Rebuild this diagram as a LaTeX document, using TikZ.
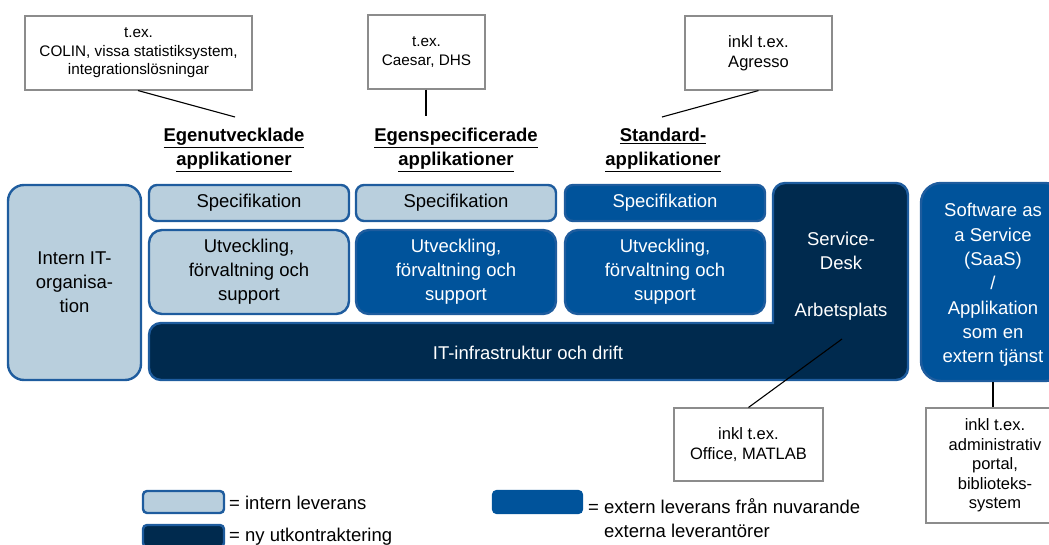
\documentclass[tikz,border=0pt]{standalone}
\usepackage{fontspec}
\setmainfont{Liberation Sans}
\definecolor{lightbox}{HTML}{B9CFDD}
\definecolor{midblue}{HTML}{00539B}
\definecolor{darkbox}{HTML}{002A4E}
\definecolor{edgeblue}{HTML}{1E5C9E}
\definecolor{notegray}{HTML}{8C8C8C}

\begin{document}
\begin{tikzpicture}[x=1pt,y=-1pt,
  tile/.style={draw=edgeblue, line width=2.4pt, inner sep=0pt, align=center,
    font=\fontsize{18.5}{24}\selectfont},
  intern/.style={tile, fill=lightbox, text=black},
  extern/.style={tile, fill=midblue, text=white},
  spec/.style={minimum width=200pt, minimum height=36pt, rounded corners=8pt},
  devel/.style={minimum width=200pt, minimum height=84pt, rounded corners=13pt},
  note/.style={draw=notegray, line width=1.1pt, fill=white, align=center,
    inner sep=0pt, font=\fontsize{15.3}{18.5}\selectfont},
  bignote/.style={note, font=\fontsize{16.5}{19.5}\selectfont},
  lead/.style={line width=1.1pt, black},
  heading/.style={align=center, font=\bfseries\fontsize{18.5}{24}\selectfont},
  label/.style={inner sep=0pt, font=\fontsize{18.5}{24}\selectfont},
  swatch/.style={draw=edgeblue, line width=2.4pt, rounded corners=4pt,
    minimum height=22pt, inner sep=0pt}]

\useasboundingbox (0,0) rectangle (1049,545);
\clip (0,0) rectangle (1049,545);

% left column: internal IT organisation
\node[intern, minimum width=133pt, minimum height=195pt, rounded corners=16pt]
  (org) at (74.5,282.5) {Intern IT-\\organisa-\\tion};

% infrastructure bar joined with the service desk column (inner corner kept sharp)
\draw[draw=edgeblue, fill=darkbox, line width=2.4pt]
  (461,323) -- (773,323) [rounded corners=12pt] -- (773,183)
  -- (908,183) -- (908,380) -- (149,380) -- (149,323) -- cycle;
\node[text=white, align=center, font=\fontsize{18.5}{24}\selectfont]
  (desk) at (841,251) {Service-\\Desk};
\node[label, text=white] (work) at (841,312) {Arbetsplats};
\node[label, text=white] (infra) at (528,353) {IT-infrastruktur och drift};
\coordinate (workpt) at (842,339);

% specification row
\node[intern, spec] (spec1) at (249,203) {Specifikation};
\node[intern, spec] (spec2) at (456,203) {Specifikation};
\node[extern, spec] (spec3) at (665,203) {Specifikation};

% development row
\node[intern, devel] (dev1) at (249,272) {Utveckling,\\förvaltning och\\support};
\node[extern, devel] (dev2) at (456,272) {Utveckling,\\förvaltning och\\support};
\node[extern, devel] (dev3) at (665,272) {Utveckling,\\förvaltning och\\support};

% software as a service
\node[extern, minimum width=144pt, minimum height=198pt, rounded corners=20pt]
  (saas) at (993,282) {};
\node[text=white, align=center, font=\fontsize{18.5}{24.3}\selectfont]
  (saastxt) at (993,285) {Software as\\a Service\\(SaaS)\\/\\Applikation\\som en\\extern tjänst};

% column headings
\node[heading] (h1) at (234,150) {\underline{Egenutvecklade}\\\underline{applikationer}};
\node[heading] (h2) at (456,150) {\underline{Egenspecificerade}\\\underline{applikationer}};
\node[heading] (h3) at (663,150) {\underline{Standard-}\\\underline{applikationer}};
\coordinate (h1pt) at (235,117);
\coordinate (h2pt) at (426,116);
\coordinate (h3pt) at (662,117);

% example callouts
\node[note, minimum width=227pt, minimum height=74pt] (exA) at (138.5,53)
  {t.ex.\\COLIN, vissa statistiksystem,\\integrationslösningar};
\node[note, minimum width=117pt, minimum height=74pt] (exB) at (426.5,52)
  {t.ex.\\Caesar, DHS};
\node[bignote, minimum width=147pt, minimum height=74pt] (exC) at (758.5,53)
  {inkl t.ex.\\Agresso};
\node[bignote, minimum width=149pt, minimum height=73pt] (exD) at (748.5,444.5)
  {inkl t.ex.\\Office, MATLAB};
\node[bignote, minimum width=138pt, minimum height=115pt] (exE) at (995,465.5)
  {inkl t.ex.\\administrativ\\portal,\\biblioteks-\\system};

\draw[lead] (exA.south -| 138,0) -- (h1pt);
\draw[lead] (exB.south -| h2pt) -- (h2pt);
\draw[lead] (exC.south) -- (h3pt);
\draw[lead] (exD.north) -- (workpt);
\draw[lead] (saas.south -| 993,0) -- (exE.north -| 993,0);

% legend
\node[swatch, fill=lightbox, minimum width=81pt] (keyint) at (183.5,502) {};
\node[label, anchor=west] (keyinttxt) at (229,503) {= intern leverans};
\node[swatch, fill=darkbox, minimum width=81pt] (keyout) at (183.5,536) {};
\node[label, anchor=west] (keyouttxt) at (229,537) {= ny utkontraktering};
\node[swatch, fill=midblue, draw=midblue, minimum width=89pt] (keyext) at (537.5,502) {};
\node[label, anchor=west] (keyexttxt) at (588,506) {= extern leverans från nuvarande};
\node[label, anchor=west] (keyexttxt2) at (604,531) {externa leverantörer};
\end{tikzpicture}
\end{document}
